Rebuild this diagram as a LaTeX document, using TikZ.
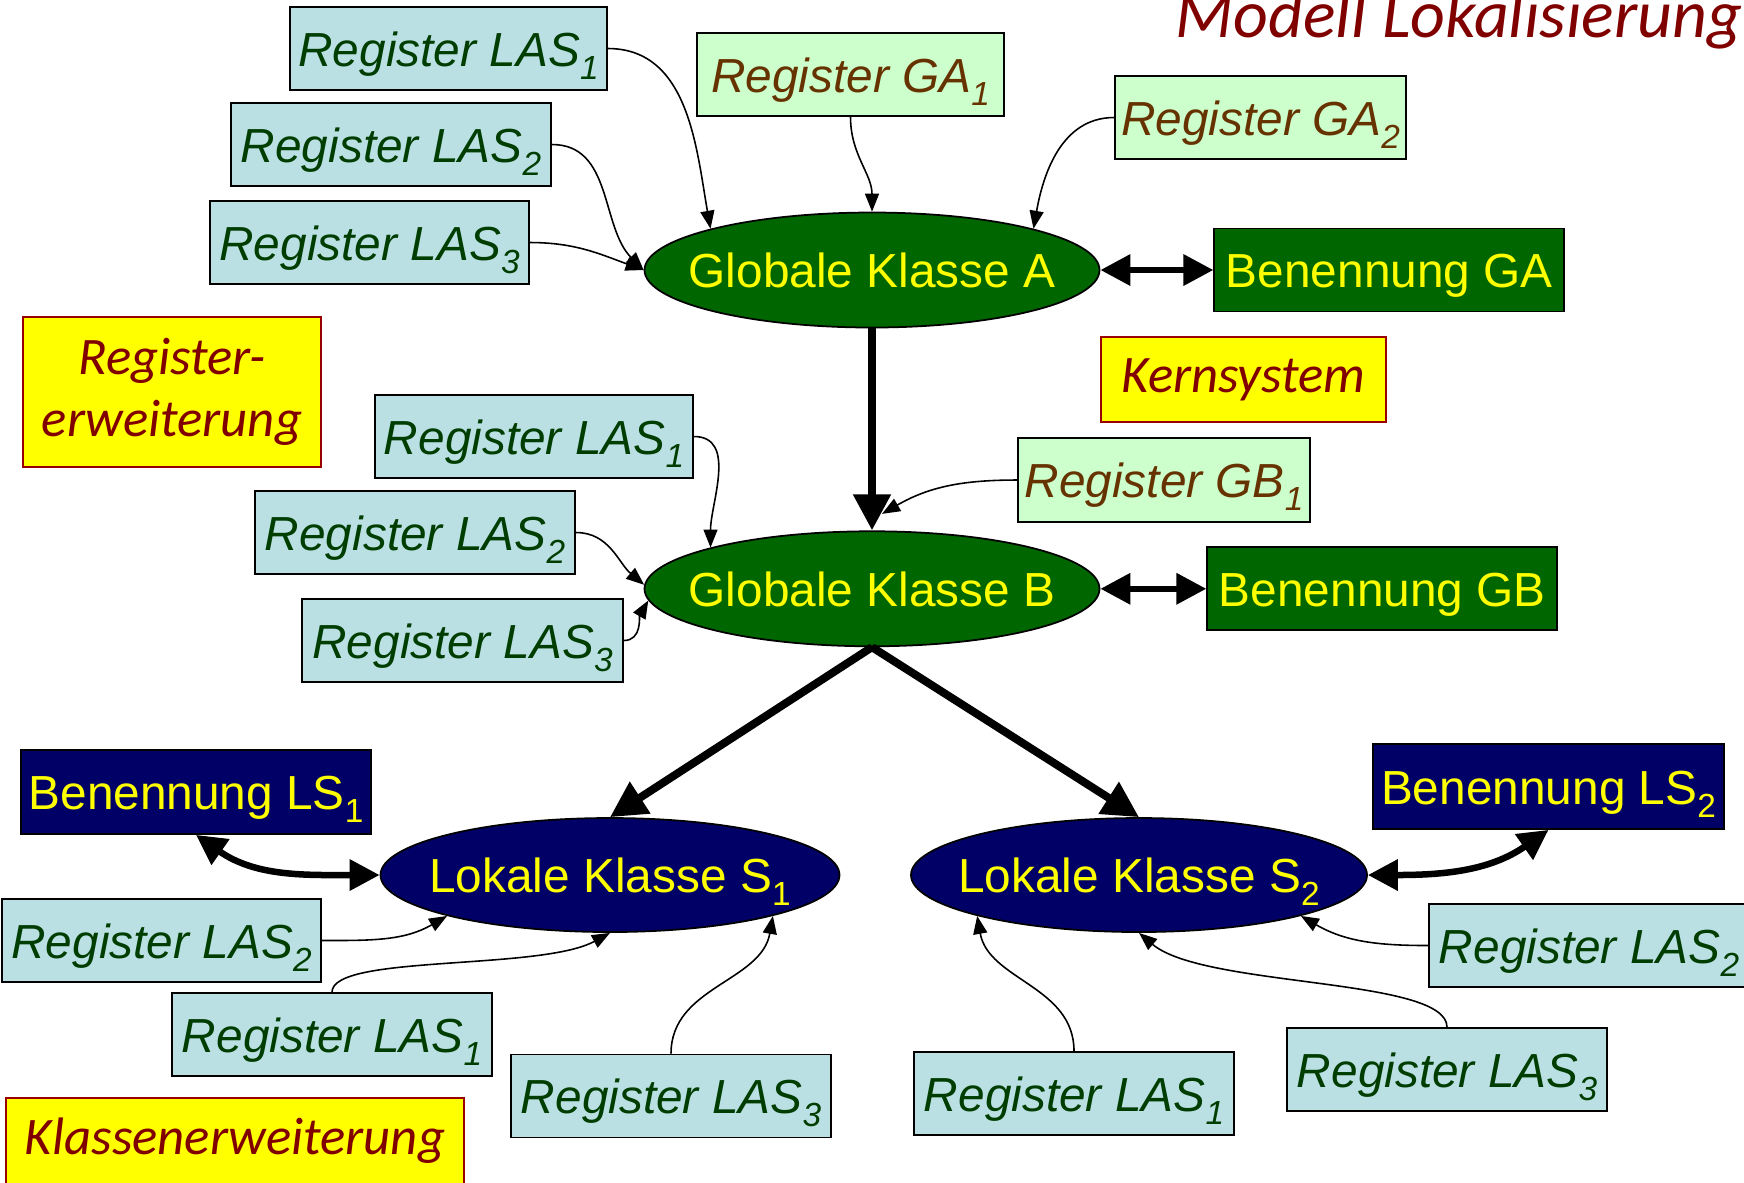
\documentclass[tikz,border=0pt]{standalone}
\usepackage{fontspec}
\setmainfont{Liberation Sans}
\newfontfamily\carlito{Carlito}
\usepackage{xcolor}
\usepackage{tikz}
\usetikzlibrary{arrows.meta,positioning,shapes.geometric,calc}
\definecolor{lasfill}{HTML}{BBE0E3}
\definecolor{lastext}{HTML}{003D00}
\definecolor{gafill}{HTML}{CCFFCC}
\definecolor{gatext}{HTML}{663300}
\definecolor{gfill}{HTML}{006600}
\definecolor{lfill}{HTML}{000066}
\definecolor{notetext}{HTML}{800000}
\definecolor{notedraw}{HTML}{990000}
\definecolor{gelb}{HTML}{FFFF00}
\newcommand\tief[1]{\raisebox{-3.7pt}{\fontsize{9.5pt}{10pt}\selectfont #1}}
\tikzset{
  las/.style={draw, line width=0.5pt, fill=lasfill, text=lastext, font={\fontsize{13.6pt}{16pt}\selectfont\itshape},
    minimum width=3.2cm, minimum height=0.83cm, inner sep=0pt, text height=0.35cm, text depth=0pt},
  reg/.style={las, fill=gafill, text=gatext},
  klasse/.style={ellipse, draw, line width=0.5pt, fill=gfill, text=gelb, font={\fontsize{13.6pt}{16pt}\selectfont},
    minimum width=4.55cm, minimum height=1.15cm, inner xsep=-0.4cm, inner ysep=0pt, text height=0.35cm, text depth=0pt},
  lokal/.style={klasse, fill=lfill},
  benennung/.style={draw, line width=0.5pt, fill=gfill, text=gelb, font={\fontsize{13.6pt}{16pt}\selectfont},
    minimum width=3.5cm, minimum height=0.83cm, inner sep=0pt, text height=0.35cm, text depth=0pt},
  note/.style={draw=notedraw, line width=0.5pt, fill=gelb, text=notetext, align=center, inner sep=0pt,
    font={\carlito\itshape\fontsize{15pt}{17.6pt}\selectfont}},
  heading/.style={text=notetext, inner sep=0pt, font={\carlito\itshape\fontsize{19.3pt}{23pt}\selectfont}},
  line/.style={-{Triangle[length=0.18cm,width=0.14cm]}, line width=0.45pt},
  thickline/.style={-{Triangle[length=0.36cm,width=0.36cm]}, line width=0.08cm},
  dline/.style={{Triangle[length=0.3cm,width=0.3cm]}-{Triangle[length=0.3cm,width=0.3cm]}, line width=0.065cm}
}

\begin{document}
\begin{tikzpicture}
  \useasboundingbox (0,0) rectangle (17.44,-11.82);

  \node[heading, anchor=base east] (ttl) at (17.43,-0.37) {Modell Lokalisierung};

  % Kernsystem
  \node[klasse] (gA) at (8.72,-2.70) {Globale Klasse A};
  \node[klasse, below=2.02cm of gA] (gB) {Globale Klasse B};
  \node[benennung, right=1.13cm of gA] (bga) {Benennung GA};
  \node[benennung, right=1.06cm of gB] (bgb) {Benennung GB};
  \node[reg, minimum width=3.07cm] (rga1) at (8.505,-0.745) {Register GA\tief{1}};
  \node[reg, minimum width=2.91cm] (rga2) at (12.605,-1.175) {Register GA\tief{2}};
  \node[reg, minimum width=2.92cm, minimum height=0.84cm] (rgb1) at (11.64,-4.80) {Register GB\tief{1}};
  \node[note, minimum width=2.85cm, minimum height=0.85cm] (kern) at (12.435,-3.795) {Kernsystem};

  % Registererweiterung
  \node[las, minimum width=3.17cm] (ra1) at (4.485,-0.485) {Register LAS\tief{1}};
  \node[las] (ra2) at (3.91,-1.445) {Register LAS\tief{2}};
  \node[las, minimum width=3.19cm] (ra3) at (3.695,-2.425) {Register LAS\tief{3}};
  \node[las, minimum width=3.18cm] (rb1) at (5.34,-4.365) {Register LAS\tief{1}};
  \node[las] (rb2) at (4.15,-5.325) {Register LAS\tief{2}};
  \node[las, minimum width=3.21cm] (rb3) at (4.625,-6.405) {Register LAS\tief{3}};
  \node[note, minimum width=2.98cm, minimum height=1.50cm] (regerw) at (1.72,-3.92) {Register-\\erweiterung};

  % Klassenerweiterung
  \node[lokal, minimum width=4.59cm, minimum height=1.14cm] (s1) at (6.10,-8.75) {Lokale Klasse S\tief{1}};
  \node[lokal, minimum width=4.56cm, minimum height=1.14cm] (s2) at (11.39,-8.75) {Lokale Klasse S\tief{2}};
  \node[benennung, fill=lfill, minimum height=0.84cm] (bs1) at (1.96,-7.92) {Benennung LS\tief{1}};
  \node[benennung, fill=lfill, minimum width=3.51cm, minimum height=0.85cm] (bs2) at (15.485,-7.865) {Benennung LS\tief{2}};
  \node[las, minimum width=3.19cm] (rs12) at (1.615,-9.405) {Register LAS\tief{2}};
  \node[las] (rs11) at (3.32,-10.345) {Register LAS\tief{1}};
  \node[las] (rs13) at (6.71,-10.96) {Register LAS\tief{3}};
  \node[las] (rs22) at (15.89,-9.455) {Register LAS\tief{2}};
  \node[las] (rs21) at (10.74,-10.935) {Register LAS\tief{1}};
  \node[las] (rs23) at (14.47,-10.695) {Register LAS\tief{3}};
  \node[note, minimum width=4.58cm, minimum height=0.86cm] (klerw) at (2.35,-11.41) {Klassenerweiterung};

  \draw[thickline] (gA) -- (gB);
  \draw[dline] (gA) -- (bga);
  \draw[dline] (gB) -- (bgb);
  \draw[thickline] (gB.south) -- (s1.north);
  \draw[thickline] (gB.south) -- (s2.north);
  \draw[dline] (s1.west) to[out=180, in=-35] (bs1.south);
  \draw[dline] (s2.east) to[out=0, in=-145] (bs2.south);

  \draw[line] (ra1.east) to[out=0, in=100] (gA.north west);
  \draw[line] (ra2.east) to[out=0, in=135] (gA.west);
  \draw[line] (ra3.east) to[out=0, in=160] (gA.west);
  \draw[line] (rga1.south) to[out=-90, in=90] (gA.north);
  \draw[line] (rga2.west) to[out=180, in=80] (gA.north east);

  \draw[line] (rb1.east) to[out=0, in=90] (gB.north west);
  \draw[line] (rb2.east) to[out=0, in=140] (gB.179);
  \draw[line] (rb3.east) to[out=0, in=-120] (gB.183);
  \draw[line] (rgb1.west) to[out=180, in=30] ([shift={(0.1,0.165)}]gB.north);

  \draw[line] (rs12.east) to[out=0, in=-150] (s1.south west);
  \draw[line] (rs11.north) .. controls +(0,0.38) and +(-0.7,-0.38) .. (s1.south);
  \draw[line] (rs13.north) to[out=90, in=-100] (s1.south east);
  \draw[line] (rs22.west) to[out=180, in=-30] (s2.south east);
  \draw[line] (rs23.north) .. controls +(0,0.5) and +(0.65,-0.55) .. (s2.south);
  \draw[line] (rs21.north) to[out=90, in=-80] (s2.south west);
\end{tikzpicture}
\end{document}
